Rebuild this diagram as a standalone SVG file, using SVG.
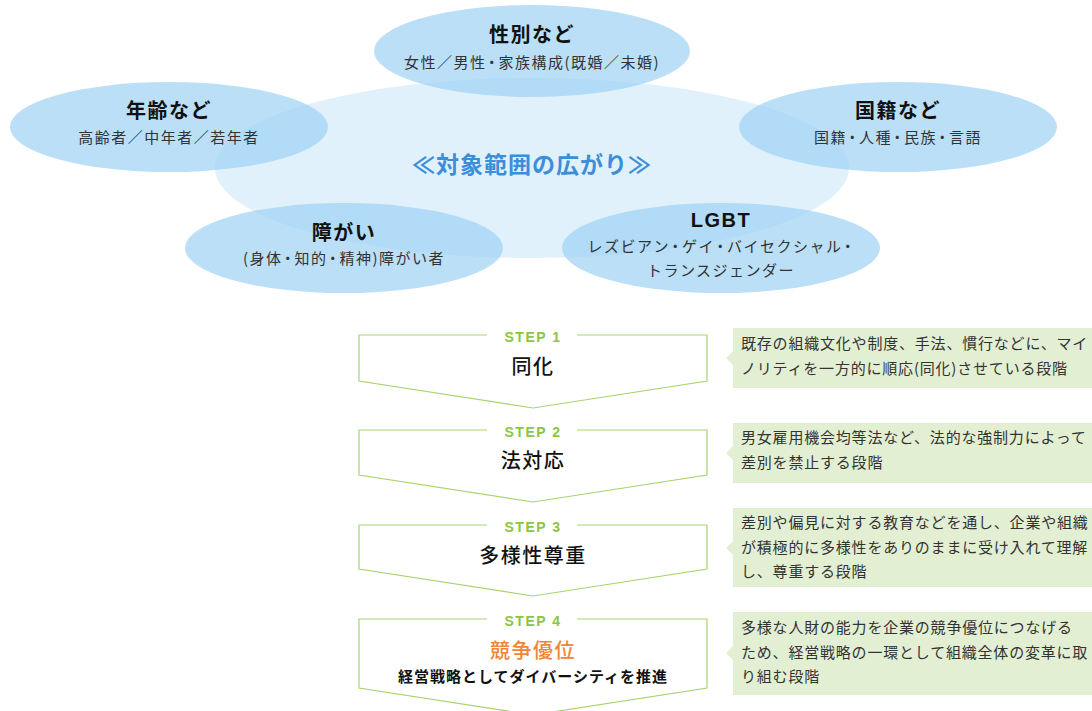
<svg xmlns="http://www.w3.org/2000/svg" width="1092" height="711" viewBox="0 0 1092 711">
<defs>
<style>
.jp{font-family:"Noto Sans CJK JP","Noto Sans CJK SC",sans-serif;}
.ell{fill:#9cd2f4;fill-opacity:0.7;}
.center{fill:#e1f1fb;}
.ttl{font-size:20px;font-weight:700;fill:#111;text-anchor:middle;letter-spacing:1.5px;}
.sub{font-size:15px;fill:#333;text-anchor:middle;letter-spacing:1.5px;}
.d{letter-spacing:-0.75px;}
.step{fill:#fff;stroke:#a9d46f;stroke-width:1.2;}
.steplbl{font-family:"Liberation Sans",Arial,sans-serif;font-size:14px;font-weight:700;fill:#8cc63f;text-anchor:middle;letter-spacing:1.5px;}
.stxt{font-size:20px;font-weight:500;fill:#111;text-anchor:middle;letter-spacing:1.5px;}
.desc{fill:#e2efd3;}
.dtxt{font-size:15px;fill:#333;letter-spacing:0.8px;}
</style>
</defs>
<rect width="1092" height="711" fill="#fff"/>
<g id="scope">
<ellipse class="center" cx="532" cy="168" rx="317" ry="90"/>
<text class="jp" x="532" y="173" text-anchor="middle" font-size="23" font-weight="700" fill="#3b8ed8" letter-spacing="1">≪対象範囲の広がり≫</text>
</g>
<g id="node-gender">
<ellipse class="ell" cx="532" cy="51" rx="158" ry="46"/>
<text class="jp ttl" x="532" y="42">性別など</text>
<text class="jp sub" x="532" y="68">女性／男<tspan class="d">性・</tspan>家族構成(既婚／未婚)</text>
</g>
<g id="node-age">
<ellipse class="ell" cx="169" cy="127" rx="159" ry="45"/>
<text class="jp ttl" x="169" y="118">年齢など</text>
<text class="jp sub" x="169" y="143">高齢者／中年者／若年者</text>
</g>
<g id="node-nationality">
<ellipse class="ell" cx="898" cy="127" rx="159" ry="45"/>
<text class="jp ttl" x="898" y="118">国籍など</text>
<text class="jp sub" x="898" y="143">国<tspan class="d">籍・</tspan>人<tspan class="d">種・</tspan>民<tspan class="d">族・</tspan>言語</text>
</g>
<g id="node-disability">
<ellipse class="ell" cx="344" cy="248" rx="159" ry="45"/>
<text class="jp ttl" x="344" y="240">障がい</text>
<text class="jp sub" x="344" y="264">(身<tspan class="d">体・</tspan>知<tspan class="d">的・</tspan>精神)障がい者</text>
</g>
<g id="node-lgbt">
<ellipse class="ell" cx="721" cy="248" rx="159" ry="45"/>
<text class="ttl" x="721" y="227" style="font-family:'Liberation Sans',Arial,sans-serif" font-size="22">LGBT</text>
<text class="jp sub" x="721" y="252">レズビア<tspan class="d">ン・</tspan>ゲ<tspan class="d">イ・</tspan>バイセクシャ<tspan class="d">ル・</tspan></text>
<text class="jp sub" x="721" y="276">トランスジェンダー</text>
</g>
<g id="connectors"></g>
<g id="step1">
<path class="step" d="M487,335 H359 V381 L533,408 L707,381 V335 H577"/>
<text class="steplbl" x="533" y="342">STEP 1</text>
<text class="jp stxt" x="533" y="374">同化</text>
</g>
<g id="step2">
<path class="step" d="M487,430 H359 V475 L533,502 L707,475 V430 H577"/>
<text class="steplbl" x="533" y="437">STEP 2</text>
<text class="jp stxt" x="533" y="468">法対応</text>
</g>
<g id="step3">
<path class="step" d="M487,525 H359 V569 L533,596 L707,569 V525 H577"/>
<text class="steplbl" x="533" y="532">STEP 3</text>
<text class="jp stxt" x="533" y="563">多様性尊重</text>
</g>
<g id="step4">
<path class="step" d="M487,619 H359 V688 L533,715 L707,688 V619 H577"/>
<text class="steplbl" x="533" y="626">STEP 4</text>
<text class="jp stxt" x="533" y="658" style="fill:#f08537">競争優位</text>
<text class="jp" x="533" y="682" text-anchor="middle" font-size="15" font-weight="700" fill="#111" letter-spacing="1">経営戦略としてダイバーシティを推進</text>
</g>
<g id="desc1">
<path class="desc" d="M733,328 H1092 V388 H733 V365 L726,358 L733,351 Z"/>
<text class="jp dtxt" x="741" y="349">既存の組織文化や制度、手法、慣行などに、マイ</text>
<text class="jp dtxt" x="741" y="374">ノリティを一方的に順応(同化)させている段階</text>
</g>
<g id="desc2">
<path class="desc" d="M733,423 H1092 V483 H733 V460 L726,453 L733,446 Z"/>
<text class="jp dtxt" x="741" y="443">男女雇用機会均等法など、法的な強制力によって</text>
<text class="jp dtxt" x="741" y="468">差別を禁止する段階</text>
</g>
<g id="desc3">
<path class="desc" d="M733,508 H1092 V587 H733 V555 L726,548 L733,541 Z"/>
<text class="jp dtxt" x="741" y="528">差別や偏見に対する教育などを通し、企業や組織</text>
<text class="jp dtxt" x="741" y="553">が積極的に多様性をありのままに受け入れて理解</text>
<text class="jp dtxt" x="741" y="577">し、尊重する段階</text>
</g>
<g id="desc4">
<path class="desc" d="M733,612 H1092 V695 H733 V660 L726,653 L733,646 Z"/>
<text class="jp dtxt" x="741" y="633">多様な人財の能力を企業の競争優位につなげる</text>
<text class="jp dtxt" x="741" y="658">ため、経営戦略の一環として組織全体の変革に取</text>
<text class="jp dtxt" x="741" y="682">り組む段階</text>
</g>
</svg>
